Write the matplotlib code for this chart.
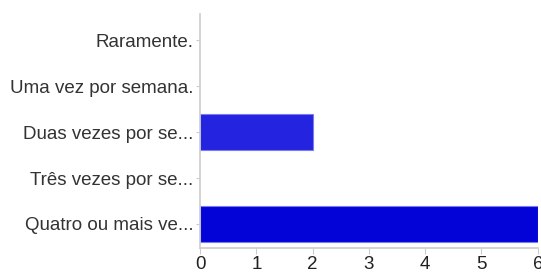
import matplotlib
matplotlib.use("Agg")
import matplotlib.pyplot as plt

# data
categories = ["Raramente.", "Uma vez por semana.", "Duas vezes por se...",
              "Três vezes por se...", "Quatro ou mais ve..."]
values = [0, 0, 2, 0, 6]
bar_colors = ["#2323e0", "#2323e0", "#2323e0", "#2323e0", "#0303d8"]
x_ticks = [0, 1, 2, 3, 4, 5, 6]

plt.rcParams["font.family"] = ["Liberation Sans", "DejaVu Sans"]

fig = plt.figure(figsize=(5.41, 2.73), dpi=100)
ax = fig.add_axes([0.370, 0.092, 0.624, 0.857])

pos = list(range(len(categories)))
edge_w = [0.8 if v > 0 else 0 for v in values]
ax.barh(pos, values, height=0.8, color=bar_colors, edgecolor="#7b7bf0", linewidth=edge_w)

ax.set_ylim(len(categories) - 0.48, -0.57)
ax.set_xlim(0, 6)
ax.set_yticks(pos)
ax.set_yticklabels(categories, fontsize=13.5, color="#333333")
ax.set_xticks(x_ticks)
ax.set_xticklabels([str(t) for t in x_ticks], fontsize=13.5, color="#222222")

for side in ["top", "right"]:
    ax.spines[side].set_visible(False)
for side in ["left", "bottom"]:
    ax.spines[side].set_color("#cccccc")
    ax.spines[side].set_linewidth(1.2)
ax.tick_params(axis="y", length=3, color="#cccccc", pad=2)
ax.tick_params(axis="x", length=4, color="#cccccc", pad=2)

fig.savefig("out.png", dpi=100)
